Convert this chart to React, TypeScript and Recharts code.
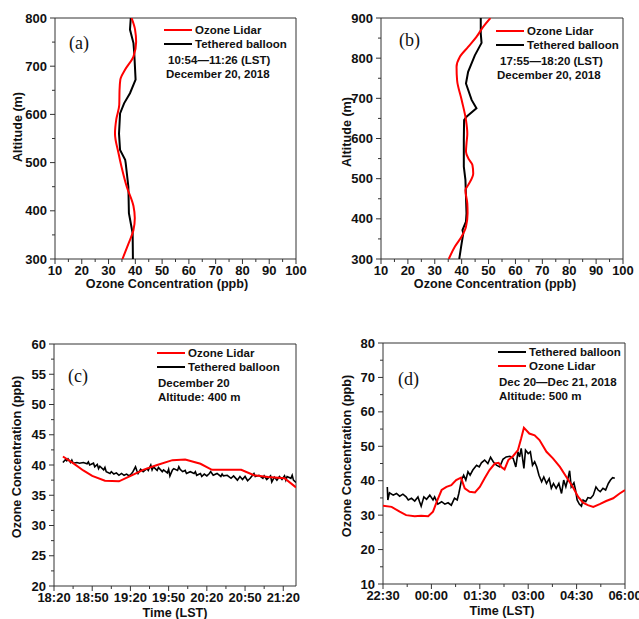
import { ScatterChart, Scatter, XAxis, YAxis, ReferenceLine } from "recharts";

// (a) profile, 10:54-11:26, altitude (m) / ozone (ppb)
const aLidarAlt = [300, 330, 360, 385, 410, 450, 490, 520, 560, 590, 620, 650, 672, 693, 720, 750, 776, 800];
const aLidarO3 = [35.2, 37.3, 39.3, 39.8, 39.3, 36.8, 34.9, 33.7, 32.4, 32.9, 34.0, 34.1, 34.4, 36.2, 39.3, 40.3, 39.9, 38.6];
const aBalloonAlt = [300, 353, 395, 450, 499, 506, 526, 560, 602, 623, 644, 672, 727, 748, 776, 800];
const aBalloonO3 = [39.1, 39.0, 37.6, 37.4, 36.4, 36.2, 34.3, 33.9, 34.3, 35.8, 38.0, 40.1, 39.6, 39.3, 38.0, 38.3];

// (b) profile, 17:55-18:20
const bLidarAlt = [300, 331, 356, 380, 414, 438, 472, 484, 513, 534, 548, 567, 588, 612, 646, 696, 745, 778, 803, 828, 853, 878, 900];
const bLidarO3 = [35.2, 37.5, 40.0, 41.6, 42.2, 42.1, 41.4, 42.4, 44.3, 44.0, 42.7, 41.6, 41.8, 42.1, 41.6, 40.0, 38.3, 38.1, 39.3, 42.4, 45.5, 48.0, 50.7];
const bBalloonAlt = [300, 331, 364, 372, 393, 414, 497, 530, 596, 646, 654, 675, 696, 737, 766, 807, 838, 861, 900];
const bBalloonO3 = [39.1, 39.8, 40.6, 40.3, 41.6, 41.8, 41.4, 40.8, 40.8, 40.9, 41.8, 45.5, 43.7, 41.6, 42.4, 44.9, 47.4, 47.1, 47.1];

// (c) time series at 400 m, minutes after 18:20
const cLidarMin = [7, 15, 23, 30, 40, 51, 61, 70, 81, 93, 103, 115, 124, 141, 147, 157, 168, 181, 190];
const cLidarO3 = [41.4, 40.3, 39.1, 38.2, 37.4, 37.3, 38.3, 39.2, 40.0, 40.8, 40.9, 40.2, 39.2, 39.2, 39.2, 38.3, 38.0, 37.8, 36.3];
const cBalloonMin = [
  7, 9, 10, 11, 13, 14, 15, 18, 20, 23, 26, 27, 28, 31, 32, 34, 35, 36, 39, 40, 41, 44, 45, 47, 49, 51, 53, 55, 57, 59,
  61, 62, 64, 65, 66, 68, 70, 73, 74, 76, 77, 78, 81, 82, 85, 86, 89, 90, 91, 93, 94, 97, 98, 99, 101, 103, 104, 107,
  110, 111, 112, 115, 116, 118, 120, 122, 123, 125, 128, 131, 132, 133, 136, 139, 141, 144, 146, 148, 150, 152, 154,
  157, 158, 161, 164, 165, 167, 170, 171, 173, 175, 177, 179, 181, 182, 183, 186, 187, 188, 190,
];
const cBalloonO3 = [
  40.4, 40.9, 40.7, 41.0, 40.4, 40.8, 40.3, 40.4, 40.3, 40.4, 40.2, 40.5, 40.0, 40.3, 39.7, 40.1, 39.4, 39.8, 39.2, 39.6,
  38.9, 38.6, 38.9, 38.5, 38.7, 38.3, 38.6, 38.3, 38.5, 38.2, 38.6, 38.9, 39.7, 39.1, 38.6, 39.3, 38.9, 39.4, 39.1, 40.0,
  39.2, 39.7, 39.1, 39.6, 38.9, 39.2, 38.7, 39.3, 38.2, 39.2, 39.4, 39.1, 39.7, 39.3, 38.9, 39.1, 38.6, 38.9, 38.6, 38.9,
  38.3, 38.6, 38.1, 38.5, 38.2, 38.6, 38.9, 38.3, 38.6, 38.1, 38.5, 38.2, 38.3, 37.8, 38.2, 37.5, 38.1, 37.6, 38.1, 37.4,
  37.8, 38.6, 38.1, 38.3, 37.8, 38.2, 37.6, 38.2, 37.2, 38.0, 37.5, 38.1, 37.6, 38.2, 37.5, 38.1, 37.8, 38.3, 37.5, 37.1,
];

// (d) time series at 500 m, minutes after 22:30
const dLidarMin = [
  0, 16, 31, 43, 59, 71, 84, 93, 100, 109, 118, 127, 136, 145, 152, 161, 171, 180, 189, 198, 208, 215, 220, 226, 233,
  242, 251, 257, 262, 272, 282, 291, 304, 316, 329, 341, 353, 363, 372, 381, 391, 403, 415, 428, 440, 450,
];
const dLidarO3 = [
  32.7, 32.4, 31.0, 30.0, 29.7, 29.8, 29.7, 31.0, 33.9, 37.3, 38.2, 38.7, 40.2, 40.9, 37.8, 36.8, 36.6, 38.2, 40.7,
  43.1, 45.0, 45.2, 44.0, 43.3, 46.0, 47.2, 48.9, 52.3, 55.4, 53.7, 53.2, 51.8, 48.4, 46.5, 44.0, 41.1, 38.2, 35.3,
  33.6, 32.9, 32.4, 33.2, 34.1, 34.9, 36.3, 37.3,
];
const dBalloonMin = [
  8, 9, 12, 19, 25, 31, 37, 43, 47, 53, 59, 65, 68, 71, 76, 81, 87, 93, 96, 102, 109, 115, 121, 127, 133, 138, 141, 146,
  150, 154, 158, 162, 167, 174, 179, 183, 189, 195, 200, 205, 211, 217, 223, 229, 236, 242, 247, 251, 254, 257, 262, 265,
  270, 274, 278, 282, 286, 290, 295, 299, 304, 309, 313, 317, 322, 327, 332, 336, 340, 344, 347, 350, 355, 358, 361, 365,
  369, 372, 377, 381, 386, 391, 396, 400, 404, 409, 414, 419, 423, 427, 431,
];
const dBalloonO3 = [
  38.2, 34.4, 36.5, 35.8, 36.3, 35.5, 36.1, 35.3, 34.4, 34.9, 34.1, 35.3, 33.9, 32.6, 35.3, 34.6, 35.8, 34.4, 35.3, 33.2,
  33.9, 33.2, 33.6, 32.9, 34.9, 34.4, 36.3, 40.2, 41.6, 40.2, 42.6, 41.6, 43.1, 44.5, 44.0, 45.2, 46.0, 45.0, 46.8, 45.5,
  44.5, 44.0, 46.2, 46.9, 47.1, 46.5, 44.0, 48.4, 46.9, 49.4, 43.6, 48.9, 47.9, 48.4, 44.5, 45.5, 44.0, 41.6, 39.7, 41.1,
  39.2, 40.6, 37.8, 39.2, 37.8, 39.2, 36.3, 40.2, 38.2, 40.7, 42.9, 38.2, 39.4, 37.3, 34.4, 33.2, 32.6, 34.4, 33.9, 35.1,
  34.9, 35.8, 38.2, 37.3, 36.8, 37.8, 37.3, 39.2, 40.2, 40.9, 40.7,
];

// ticks
const concMajor = [10, 20, 30, 40, 50, 60, 70, 80, 90, 100];
const concMinor = [15, 25, 35, 45, 55, 65, 75, 85, 95];
const aAltMajor = [300, 400, 500, 600, 700, 800];
const aAltMinor = [350, 450, 550, 650, 750];
const bAltMajor = [300, 400, 500, 600, 700, 800, 900];
const bAltMinor = [350, 450, 550, 650, 750, 850];
const cTimeMajor = [0, 30, 60, 90, 120, 150, 180];
const cTimeMinor = [15, 45, 75, 105, 135, 165];
const cO3Major = [20, 25, 30, 35, 40, 45, 50, 55, 60];
const cO3Minor = [22.5, 27.5, 32.5, 37.5, 42.5, 47.5, 52.5, 57.5];
const dTimeMajor = [0, 90, 180, 270, 360, 450];
const dTimeMinor = [45, 135, 225, 315, 405];
const dO3Major = [10, 20, 30, 40, 50, 60, 70, 80];
const dO3Minor = [15, 25, 35, 45, 55, 65, 75];

const FONT = '"Liberation Sans", Arial, sans-serif';
const AXIS = "#333";

const pairs = (xs: number[], ys: number[]) => xs.map((x, i) => ({ x, y: ys[i] }));
const clock = (start: number) => (v: number) => {
  const m = (start + v) % 1440;
  const hh = String(Math.floor(m / 60)).padStart(2, "0");
  const mm = String(m % 60).padStart(2, "0");
  return `${hh}:${mm}`;
};
const plain = (v: number) => String(v);

function xTick(majors: number[], fmt: (v: number) => string) {
  return (props: any) => {
    const { x, y, payload } = props;
    const major = majors.includes(payload.value);
    return (
      <g>
        <line x1={x} x2={x} y1={y} y2={y + (major ? 5 : 3)} stroke={AXIS} />
        {major && (
          <text x={x} y={y + 16} textAnchor="middle" fontFamily={FONT} fontWeight="bold" fontSize={13} fill="#111">
            {fmt(payload.value)}
          </text>
        )}
      </g>
    );
  };
}

function yTick(majors: number[]) {
  return (props: any) => {
    const { x, y, payload } = props;
    const major = majors.includes(payload.value);
    return (
      <g>
        <line x1={x} x2={x - (major ? 5 : 3)} y1={y} y2={y} stroke={AXIS} />
        {major && (
          <text x={x - 8} y={y + 4.5} textAnchor="end" fontFamily={FONT} fontWeight="bold" fontSize={13} fill="#111">
            {payload.value}
          </text>
        )}
      </g>
    );
  };
}

interface Series {
  data: { x: number; y: number }[];
  color: string;
  joint: "linear" | "monotoneY";
  width: number;
}

interface PanelProps {
  left: number;
  top: number;
  w: number;
  h: number;
  yW: number;
  xH: number;
  mTop: number;
  mRight: number;
  xDomain: [number, number];
  yDomain: [number, number];
  xMajor: number[];
  xMinor: number[];
  yMajor: number[];
  yMinor: number[];
  xFmt: (v: number) => string;
  series: Series[];
}

function Panel(p: PanelProps) {
  return (
    <div style={{ position: "absolute", left: p.left, top: p.top }}>
      <ScatterChart width={p.w} height={p.h} margin={{ top: p.mTop, right: p.mRight, bottom: 0, left: 0 }}>
        <XAxis
          type="number"
          dataKey="x"
          domain={p.xDomain}
          ticks={[...p.xMajor, ...p.xMinor].sort((a, b) => a - b)}
          interval={0}
          tickLine={false}
          tickSize={0}
          tickMargin={0}
          tick={xTick(p.xMajor, p.xFmt)}
          axisLine={{ stroke: AXIS }}
          height={p.xH}
          allowDataOverflow
        />
        <YAxis
          type="number"
          dataKey="y"
          domain={p.yDomain}
          ticks={[...p.yMajor, ...p.yMinor].sort((a, b) => a - b)}
          interval={0}
          tickLine={false}
          tickSize={0}
          tickMargin={0}
          tick={yTick(p.yMajor)}
          axisLine={{ stroke: AXIS }}
          width={p.yW}
          allowDataOverflow
        />
        <ReferenceLine y={p.yDomain[1]} stroke={AXIS} />
        <ReferenceLine x={p.xDomain[1]} stroke={AXIS} />
        {p.series.map((s, i) => (
          <Scatter
            key={i}
            data={s.data}
            fill={s.color}
            line={{ stroke: s.color, strokeWidth: s.width }}
            lineJointType={s.joint}
            shape={() => <g />}
            isAnimationActive={false}
          />
        ))}
      </ScatterChart>
    </div>
  );
}

const txt = { fontFamily: FONT, fontWeight: "bold" as const, fill: "#111" };

function LegendBlock({ x, y, first, second, lines }: { x: number; y: number; first: [string, string]; second: [string, string]; lines: [number, string][] }) {
  return (
    <g>
      <line x1={x} x2={x + 28} y1={y} y2={y} stroke={first[0]} strokeWidth={2} />
      <text x={x + 31} y={y + 4} fontSize={11.5} {...txt}>{first[1]}</text>
      <line x1={x} x2={x + 28} y1={y + 14} y2={y + 14} stroke={second[0]} strokeWidth={2} />
      <text x={x + 31} y={y + 18} fontSize={11.5} {...txt}>{second[1]}</text>
      {lines.map(([dx, t], i) => (
        <text key={i} x={x + dx} y={y + 34 + i * 14} fontSize={11.5} {...txt}>{t}</text>
      ))}
    </g>
  );
}

export default function App() {
  return (
    <div style={{ position: "absolute", left: 0, top: 0, width: 639, height: 619, background: "#fff" }}>
      <Panel
        left={0} top={0} w={310} h={300} yW={55} xH={41} mTop={18} mRight={14}
        xDomain={[10, 100]} yDomain={[300, 800]}
        xMajor={concMajor} xMinor={concMinor} yMajor={aAltMajor} yMinor={aAltMinor} xFmt={plain}
        series={[
          { data: pairs(aBalloonO3, aBalloonAlt), color: "#000", joint: "linear", width: 2 },
          { data: pairs(aLidarO3, aLidarAlt), color: "#ff0000", joint: "monotoneY", width: 2 },
        ]}
      />
      <Panel
        left={320} top={0} w={318} h={300} yW={61} xH={41} mTop={18} mRight={15}
        xDomain={[10, 100]} yDomain={[300, 900]}
        xMajor={concMajor} xMinor={concMinor} yMajor={bAltMajor} yMinor={bAltMinor} xFmt={plain}
        series={[
          { data: pairs(bBalloonO3, bBalloonAlt), color: "#000", joint: "linear", width: 2 },
          { data: pairs(bLidarO3, bLidarAlt), color: "#ff0000", joint: "monotoneY", width: 2 },
        ]}
      />
      <Panel
        left={0} top={300} w={310} h={319} yW={54} xH={33} mTop={44} mRight={14}
        xDomain={[0, 190]} yDomain={[20, 60]}
        xMajor={cTimeMajor} xMinor={cTimeMinor} yMajor={cO3Major} yMinor={cO3Minor} xFmt={clock(1100)}
        series={[
          { data: pairs(cBalloonMin, cBalloonO3), color: "#000", joint: "linear", width: 1.6 },
          { data: pairs(cLidarMin, cLidarO3), color: "#ff0000", joint: "linear", width: 2 },
        ]}
      />
      <Panel
        left={320} top={300} w={319} h={319} yW={63} xH={35} mTop={43} mRight={14}
        xDomain={[0, 450]} yDomain={[10, 80]}
        xMajor={dTimeMajor} xMinor={dTimeMinor} yMajor={dO3Major} yMinor={dO3Minor} xFmt={clock(1350)}
        series={[
          { data: pairs(dBalloonMin, dBalloonO3), color: "#000", joint: "linear", width: 1.6 },
          { data: pairs(dLidarMin, dLidarO3), color: "#ff0000", joint: "linear", width: 2 },
        ]}
      />
      <svg width={639} height={619} style={{ position: "absolute", left: 0, top: 0, pointerEvents: "none" }}>
        {/* axis titles */}
        <text x={167} y={288} textAnchor="middle" fontSize={12.6} {...txt}>Ozone Concentration (ppb)</text>
        <text x={495} y={288} textAnchor="middle" fontSize={12.6} {...txt}>Ozone Concentration (ppb)</text>
        <text x={175} y={617} textAnchor="middle" fontSize={12.6} {...txt}>Time (LST)</text>
        <text x={502} y={615} textAnchor="middle" fontSize={12.6} {...txt}>Time (LST)</text>
        <text transform="translate(22,127) rotate(-90)" textAnchor="middle" fontSize={12.6} {...txt}>Altitude (m)</text>
        <text transform="translate(351,132) rotate(-90)" textAnchor="middle" fontSize={12.6} {...txt}>Altitude (m)</text>
        <text transform="translate(21,457) rotate(-90)" textAnchor="middle" fontSize={12.6} {...txt}>Ozone Concentration (ppb)</text>
        <text transform="translate(351,456) rotate(-90)" textAnchor="middle" fontSize={12.6} {...txt}>Ozone Concentration (ppb)</text>

        {/* panel letters */}
        <text x={69} y={49} fontFamily='"Liberation Serif", "Times New Roman", serif' fontSize={18} fill="#111">(a)</text>
        <text x={399} y={46} fontFamily='"Liberation Serif", "Times New Roman", serif' fontSize={18} fill="#111">(b)</text>
        <text x={68} y={382} fontFamily='"Liberation Serif", "Times New Roman", serif' fontSize={18} fill="#111">(c)</text>
        <text x={398} y={385} fontFamily='"Liberation Serif", "Times New Roman", serif' fontSize={18} fill="#111">(d)</text>

        {/* legends */}
        <LegendBlock x={164} y={30} first={["#ff0000", "Ozone Lidar"]} second={["#000", "Tethered balloon"]}
          lines={[[4, "10:54\u201411:26 (LST)"], [2, "December 20, 2018"]]} />
        <LegendBlock x={496} y={31} first={["#ff0000", "Ozone Lidar"]} second={["#000", "Tethered balloon"]}
          lines={[[4, "17:55\u201418:20 (LST)"], [1, "December 20, 2018"]]} />
        <LegendBlock x={157} y={353} first={["#ff0000", "Ozone Lidar"]} second={["#000", "Tethered balloon"]}
          lines={[[1, "December 20"], [1, "Altitude: 400 m"]]} />
        <LegendBlock x={498} y={352} first={["#000", "Tethered balloon"]} second={["#ff0000", "Ozone Lidar"]}
          lines={[[1, "Dec 20\u2014Dec 21, 2018"], [1, "Altitude: 500 m"]]} />
      </svg>
    </div>
  );
}
